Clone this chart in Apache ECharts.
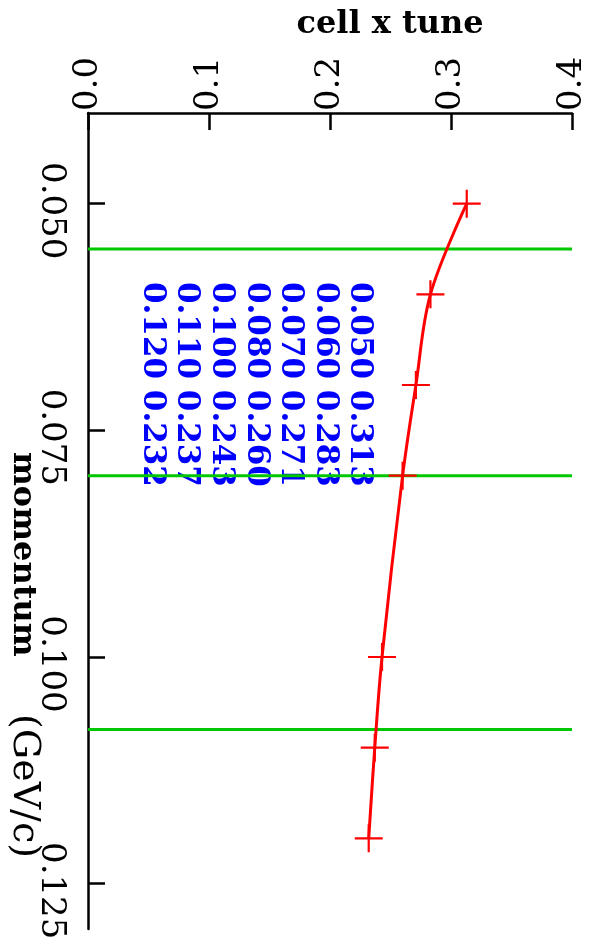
<!DOCTYPE html>
<html><head><meta charset="utf-8">
<script src="https://cdn.jsdelivr.net/npm/echarts@6/dist/echarts.min.js"></script>
<style>html,body{margin:0;padding:0;background:#fff}#c{width:591px;height:942px}</style>
</head><body><div id="c"></div>
<script>
// ---- data ----
const momentum = [0.050, 0.060, 0.070, 0.080, 0.100, 0.110, 0.120];
const tune = [0.313, 0.283, 0.271, 0.260, 0.243, 0.237, 0.232];
const cutLines = [0.055, 0.080, 0.108];
const momentumTicks = [0.050, 0.075, 0.100, 0.125];
const tuneTicks = [0.0, 0.1, 0.2, 0.3, 0.4];
const tuneRange = [0.0, 0.4];
const momentumRange = [0.04, 0.13];
const momentumTitle = 'momentum';
const momentumUnit = '(GeV/c)';
const tuneTitle = 'cell x tune';

const serif = 'DejaVu Serif';
const plusPath = 'path://M-14,-1.1 L14,-1.1 L14,1.1 L-14,1.1 Z M-1.1,-14 L1.1,-14 L1.1,14 L-1.1,14 Z';
const tableLines = momentum.map((m, i) => m.toFixed(3) + ' ' + tune[i].toFixed(3));

function txt(x, y, text, font, fill, align, rot) {
  return {
    type: 'text', x: x, y: y, rotation: rot || 0,
    style: { text: text, fill: fill, font: font, align: align, verticalAlign: 'middle',
             textAlign: align, textVerticalAlign: 'middle' }
  };
}
const graphics = tableLines.map((t, i) =>
  txt(359.5 - 34.6 * i, 282, t, 'bold 31px "DejaVu Serif"', '#0000ff', 'left', -Math.PI / 2));
graphics.push(txt(390, 25, tuneTitle, 'bold 32px "DejaVu Serif"', '#000', 'center', 0));
graphics.push(txt(22, 452, momentumTitle, 'bold 32px "DejaVu Serif"', '#000', 'left', -Math.PI / 2));
graphics.push(txt(24, 714, momentumUnit, '38px "DejaVu Serif"', '#000', 'left', -Math.PI / 2));

const chart = echarts.init(document.getElementById('c'), null, { renderer: 'canvas' });
const axisLineStyle = { color: '#000', width: 2.5 };

const cutSeries = cutLines.map(v => ({
  type: 'line', z: 1, silent: true, symbol: 'none',
  data: [[tuneRange[0], v], [tuneRange[1], v]],
  lineStyle: { color: '#00c800', width: 3 }
}));

chart.setOption({
  animation: false,
  backgroundColor: '#fff',
  grid: { left: 88, top: 113, right: 19, bottom: 13, containLabel: false, outerBoundsMode: 'none' },
  xAxis: {
    type: 'value', position: 'top', min: tuneRange[0], max: tuneRange[1],
    axisLine: { show: true, onZero: false, lineStyle: axisLineStyle },
    axisTick: { show: true, inside: true, length: 17, lineStyle: axisLineStyle, customValues: tuneTicks },
    axisLabel: { rotate: -90, margin: 2, color: '#000', fontFamily: serif, fontSize: 34,
                 customValues: tuneTicks, formatter: v => v.toFixed(1) },
    splitLine: { show: false }
  },
  yAxis: {
    type: 'value', inverse: true, min: momentumRange[0], max: momentumRange[1],
    axisLine: { show: true, onZero: false, lineStyle: axisLineStyle },
    axisTick: { show: true, inside: true, length: 17, lineStyle: axisLineStyle, customValues: momentumTicks },
    axisLabel: { rotate: -90, margin: 20, color: '#000', fontFamily: serif, fontSize: 34,
                 padding: [0, 0, 0, 14],
                 customValues: momentumTicks, formatter: v => v.toFixed(3) },
    splitLine: { show: false }
  },
  graphic: graphics,
  series: cutSeries.concat([
    {
      type: 'line', z: 3,
      data: momentum.map((m, i) => [tune[i], m]),
      smooth: 0.35,
      symbol: plusPath, symbolSize: 28,
      itemStyle: { color: '#ff0000' },
      lineStyle: { color: '#ff0000', width: 3 }
    }
  ])
});
</script>
</body></html>
